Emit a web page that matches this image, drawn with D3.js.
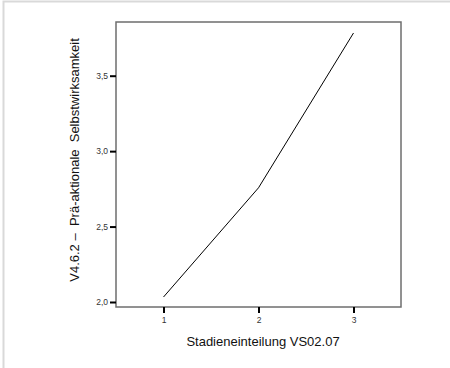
<!DOCTYPE html>
<html>
<head>
<meta charset="utf-8">
<script src="https://cdn.jsdelivr.net/npm/d3@7/dist/d3.min.js"></script>
<style>
  html, body { margin: 0; padding: 0; background: #fff; }
  svg { display: block; font-family: "Liberation Sans", Arial, sans-serif; }
</style>
</head>
<body>
<svg id="chart" width="450" height="368"></svg>
<script>
// Mean self-efficacy per stage
const stages = [1, 2, 3];
const meanValues = [2.033, 2.757, 3.783];
const yTicks = [2.0, 2.5, 3.0, 3.5];
const xTicks = [1, 2, 3];
const xTitle = "Stadieneinteilung VS02.07";
const yTitle = "V4.6.2 \u2013  Prä-aktionale  Selbstwirksamkeit";

const svg = d3.select("#chart");

// outer frame
svg.append("rect")
  .attr("x", 3.5).attr("y", 1.5)
  .attr("width", 460).attr("height", 380)
  .attr("fill", "none").attr("stroke", "#d9d9d9").attr("stroke-width", 2);

const plot = { left: 116, right: 401, top: 22, bottom: 307 };

const x = d3.scaleLinear().domain([0.5, 3.5]).range([plot.left, plot.right]);
const y = d3.scaleLinear().domain([2.0, 3.856]).range([302, plot.top]);

// plot box
svg.append("rect")
  .attr("x", plot.left).attr("y", plot.top)
  .attr("width", plot.right - plot.left).attr("height", plot.bottom - plot.top)
  .attr("fill", "none").attr("stroke", "#6e6e6e").attr("stroke-width", 1.5);

// y axis
const yAxis = d3.axisLeft(y).tickValues(yTicks)
  .tickFormat(d => d3.format(".1f")(d).replace(".", ","))
  .tickSize(6).tickPadding(2);
const gy = svg.append("g").attr("transform", `translate(${plot.left},0)`).call(yAxis);
gy.select(".domain").remove();
gy.selectAll(".tick line").attr("stroke", "#000").attr("stroke-width", 2);
gy.selectAll(".tick text").attr("font-size", 8.5).attr("fill", "#333");

// x axis
const xAxis = d3.axisBottom(x).tickValues(xTicks).tickFormat(d3.format("d"))
  .tickSize(6).tickPadding(4);
const gx = svg.append("g").attr("transform", `translate(0,${plot.bottom})`).call(xAxis);
gx.select(".domain").remove();
gx.selectAll(".tick line").attr("stroke", "#000").attr("stroke-width", 2);
gx.selectAll(".tick text").attr("font-size", 8.5).attr("fill", "#333");

// line
const line = d3.line().x((d, i) => x(stages[i])).y(d => y(d));
svg.append("path")
  .datum(meanValues)
  .attr("d", line)
  .attr("fill", "none").attr("stroke", "#000").attr("stroke-width", 1);

// axis titles
svg.append("text")
  .attr("x", 263).attr("y", 346)
  .attr("text-anchor", "middle").attr("font-size", 13).attr("fill", "#111")
  .text(xTitle);

svg.append("text")
  .attr("transform", `translate(79,160) rotate(-90)`)
  .attr("text-anchor", "middle").attr("font-size", 13).attr("fill", "#111")
  .attr("xml:space", "preserve")
  .style("white-space", "pre")
  .text(yTitle);
</script>
</body>
</html>
